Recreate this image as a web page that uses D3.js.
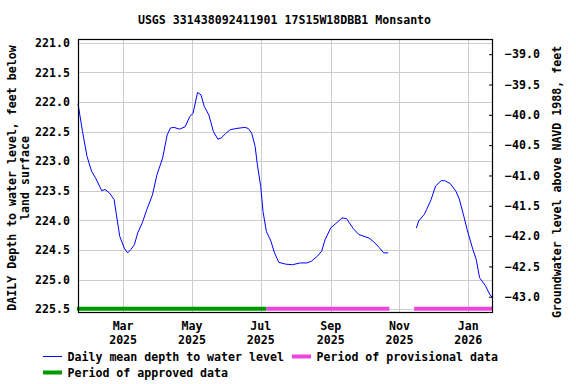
<!DOCTYPE html>
<html>
<head>
<meta charset="utf-8">
<script src="https://cdn.jsdelivr.net/npm/d3@7"></script>
<style>
  html, body { margin: 0; padding: 0; background: #fff; }
  svg { display: block; }
  text { font-family: "DejaVu Sans Mono", monospace; font-weight: bold; font-size: 11.6px; fill: #000; }
</style>
</head>
<body>
<script>
const title = "USGS 331438092411901 17S15W18DBB1 Monsanto";
const leftTitle1 = "DAILY Depth to water level, feet below";
const leftTitle2 = "land surface";
const rightTitle = "Groundwater level above NAVD 1988, feet";

const dates = ["2025-01-20","2025-01-24","2025-01-28","2025-02-01","2025-02-05","2025-02-10","2025-02-13","2025-02-17","2025-02-21","2025-02-23","2025-02-26","2025-03-02","2025-03-05","2025-03-08","2025-03-11","2025-03-14","2025-03-18","2025-03-22","2025-03-27","2025-03-31","2025-04-05","2025-04-09","2025-04-12","2025-04-15","2025-04-20","2025-04-25","2025-04-29","2025-05-02","2025-05-06","2025-05-09","2025-05-12","2025-05-16","2025-05-20","2025-05-24","2025-05-27","2025-05-31","2025-06-04","2025-06-09","2025-06-17","2025-06-20","2025-06-23","2025-06-26","2025-06-28","2025-07-01","2025-07-03","2025-07-06","2025-07-10","2025-07-13","2025-07-17","2025-07-23","2025-07-29","2025-08-05","2025-08-11","2025-08-15","2025-08-20","2025-08-24","2025-08-27","2025-09-01","2025-09-07","2025-09-11","2025-09-15","2025-09-21","2025-09-26","2025-10-02","2025-10-05","2025-10-09","2025-10-14","2025-10-18","2025-10-22","2025-11-05","2025-11-16","2025-11-18","2025-11-23","2025-11-25","2025-11-29","2025-12-03","2025-12-08","2025-12-11","2025-12-16","2025-12-21","2025-12-24","2025-12-28","2025-12-31","2026-01-05","2026-01-08","2026-01-11","2026-01-16","2026-01-20","2026-01-22"];
const depths = [222.03,222.50,222.92,223.17,223.30,223.50,223.48,223.54,223.65,223.90,224.27,224.47,224.55,224.49,224.41,224.21,224.04,223.82,223.57,223.23,222.95,222.56,222.44,222.43,222.46,222.42,222.25,222.19,221.84,221.88,222.08,222.22,222.50,222.63,222.61,222.53,222.47,222.45,222.43,222.45,222.53,222.75,223.06,223.43,223.85,224.19,224.35,224.54,224.71,224.74,224.75,224.72,224.72,224.69,224.61,224.52,224.33,224.13,224.03,223.96,223.97,224.14,224.24,224.28,224.30,224.36,224.46,224.55,224.55,null,224.13,224.01,223.90,223.82,223.65,223.42,223.33,223.33,223.38,223.51,223.64,223.93,224.16,224.49,224.66,224.97,225.10,225.25,225.30];

const approvedPeriods = [["2025-01-19","2025-07-06"]];
const provisionalPeriods = [["2025-07-06","2025-10-23"],["2025-11-14","2026-01-22"]];

const leftTicks = [221.0,221.5,222.0,222.5,223.0,223.5,224.0,224.5,225.0,225.5];
const rightTicks = [-39.0,-39.5,-40.0,-40.5,-41.0,-41.5,-42.0,-42.5,-43.0];
const monthTicks = ["2025-03-01","2025-05-01","2025-07-01","2025-09-01","2025-11-01","2026-01-01"];

const legendItems = [
  {label: "Daily mean depth to water level", color: "#0000ff", w: 1},
  {label: "Period of provisional data", color: "#ee44dd", w: 4},
  {label: "Period of approved data", color: "#009900", w: 4}
];

const W = 576, H = 384;
const L = 78, R = 492, T = 39.5, B = 312.5;
const parse = d3.utcParse("%Y-%m-%d");

const svg = d3.select("body").append("svg").attr("width", W).attr("height", H);

const x = d3.scaleUtc().domain([parse("2025-01-20"), parse("2026-01-22")]).range([L, R]);
const y = d3.scaleLinear().domain([220.946, 225.557]).range([T, B]);
const yR = d3.scaleLinear().domain([-38.758, -43.26]).range([T, B]);

// gridlines
const grid = svg.append("g");
grid.selectAll("line.h").data(leftTicks).join("line")
  .attr("x1", L).attr("x2", R)
  .attr("y1", d => Math.round(y(d)) + 0.5).attr("y2", d => Math.round(y(d)) + 0.5)
  .attr("stroke", "#cccccc").attr("stroke-width", 1);
grid.selectAll("line.v").data(monthTicks).join("line")
  .attr("y1", T).attr("y2", B)
  .attr("x1", d => Math.round(x(parse(d))) + 0.5).attr("x2", d => Math.round(x(parse(d))) + 0.5)
  .attr("stroke", "#cccccc").attr("stroke-width", 1);

// period bars
const barY = y(225.5) - 0.5;
svg.append("g").selectAll("line").data(approvedPeriods).join("line")
  .attr("x1", d => x(parse(d[0]))).attr("x2", d => x(parse(d[1])))
  .attr("y1", barY).attr("y2", barY)
  .attr("stroke", "#009900").attr("stroke-width", 4);
svg.append("g").selectAll("line").data(provisionalPeriods).join("line")
  .attr("x1", d => x(parse(d[0]))).attr("x2", d => Math.min(R, x(parse(d[1]))))
  .attr("y1", barY).attr("y2", barY)
  .attr("stroke", "#ee44dd").attr("stroke-width", 4);

// data line
const pts = dates.map((d, i) => ({date: parse(d), v: depths[i]}));
const line = d3.line().defined(d => d.v !== null).x(d => x(d.date)).y(d => y(d.v));
svg.append("path").datum(pts).attr("d", line)
  .attr("fill", "none").attr("stroke", "#0000ff").attr("stroke-width", 1);

// frame
svg.append("rect").attr("x", L + 0.5).attr("y", T).attr("width", R - L).attr("height", B - T)
  .attr("fill", "none").attr("stroke", "#000").attr("stroke-width", 1.2);

// left axis
const axL = d3.axisLeft(y).tickValues(leftTicks).tickFormat(d3.format(".1f")).tickSize(0).tickPadding(8);
const gL = svg.append("g").attr("transform", `translate(${L},0)`).call(axL);
gL.select(".domain").remove();
gL.selectAll("text").style("font-family", null).style("font-size", null).attr("font-family", null).attr("font-size", null);

// right axis
const axR = d3.axisRight(yR).tickValues(rightTicks).tickFormat(d3.format(".1f")).tickSizeInner(-3).tickSizeOuter(0).tickPadding(13);
const gR = svg.append("g").attr("transform", `translate(${R},0)`).call(axR);
gR.select(".domain").remove();
gR.selectAll("line").attr("stroke", "#000");
gR.selectAll("text").attr("font-family", null).attr("font-size", null);

// bottom axis (two-line labels)
const fmtM = d3.utcFormat("%b"), fmtY = d3.utcFormat("%Y");
const gB = svg.append("g");
gB.selectAll("text.m").data(monthTicks).join("text")
  .attr("x", d => x(parse(d))).attr("y", 330).attr("text-anchor", "middle").text(d => fmtM(parse(d)));
gB.selectAll("text.yr").data(monthTicks).join("text")
  .attr("x", d => x(parse(d))).attr("y", 343.5).attr("text-anchor", "middle").text(d => fmtY(parse(d)));

// titles
svg.append("text").attr("x", 284.5).attr("y", 24).attr("text-anchor", "middle").text(title);
const cy = (T + B) / 2 + 2;
svg.append("text").attr("transform", `translate(16,${cy}) rotate(-90)`).attr("text-anchor", "middle").text(leftTitle1);
svg.append("text").attr("transform", `translate(29,${cy}) rotate(-90)`).attr("text-anchor", "middle").text(leftTitle2);
svg.append("text").attr("transform", `translate(560.5,${cy + 4}) rotate(-90)`).attr("text-anchor", "middle").text(rightTitle);

// legend
const lg = svg.append("g");
const legPos = [{x: 43, y: 356.5}, {x: 292, y: 356.5}, {x: 43, y: 372.5}];
legendItems.forEach((it, i) => {
  const p = legPos[i];
  lg.append("line").attr("x1", p.x).attr("x2", p.x + 19).attr("y1", p.y).attr("y2", p.y)
    .attr("stroke", it.color).attr("stroke-width", it.w);
  lg.append("text").attr("x", p.x + 24.5).attr("y", p.y + 4).text(it.label);
});
</script>
</body>
</html>
